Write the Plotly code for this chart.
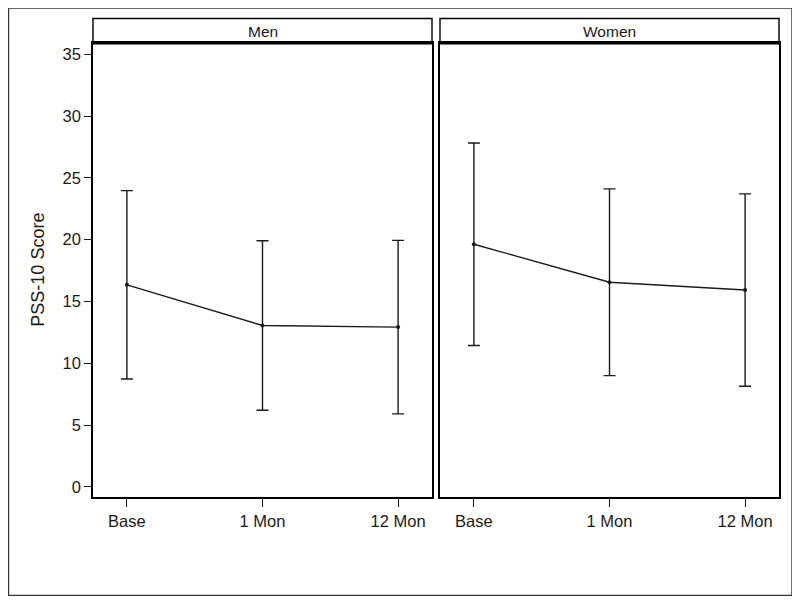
import plotly.graph_objects as go

categories = ["Base", "1 Mon", "12 Mon"]
panels = ["Men", "Women"]
men_mean = [16.35, 13.06, 12.93]
men_sd = [7.62, 6.85, 7.02]
women_mean = [19.63, 16.56, 15.93]
women_sd = [8.19, 7.55, 7.78]
y_ticks = [0, 5, 10, 15, 20, 25, 30, 35]
y_title = "PSS-10 Score"

OFF = 8  # default page body margin
W, H = 792, 596
# window-pixel geometry of the plot block
PL, PR, PT, PB = 93, 779, 43, 496.7
L = PL - OFF
R = W - (PR - OFF)
T = PT - OFF
B = H - (PB - OFF)
pw = W - L - R
ph = H - T - B

def px_x(p):
    return (p - OFF - L) / pw

def px_y(p):
    return (H - B - (p - OFF)) / ph

men_dom = [0, px_x(432)]
women_dom = [px_x(440), 1]

FONT = "Arial, Liberation Sans, sans-serif"
ink = "#1a1a1a"

fig = go.Figure()
for i, (mean, sd) in enumerate([(men_mean, men_sd), (women_mean, women_sd)]):
    xa = "x" if i == 0 else "x2"
    ya = "y" if i == 0 else "y2"
    fig.add_trace(go.Scatter(
        x=categories, y=mean, xaxis=xa, yaxis=ya, mode="lines+markers",
        line=dict(color=ink, width=1.4),
        marker=dict(color=ink, size=4),
        error_y=dict(type="data", array=sd, symmetric=True, color=ink, thickness=1.4, width=6),
        showlegend=False, hoverinfo="x+y",
    ))

axis_common = dict(showline=True, mirror=True, linecolor="black", linewidth=1.6,
                   showgrid=False, zeroline=False)
xcommon = dict(axis_common, type="category", range=[-0.25, 2.25], ticks="outside",
               ticklen=8, tickwidth=1.2, tickcolor=ink,
               tickfont=dict(family=FONT, size=16.5, color=ink))
ycommon = dict(axis_common, range=[-0.81, 35.91], tickvals=y_ticks, ticks="outside",
               ticklen=7, tickwidth=1.2, tickcolor=ink,
               tickfont=dict(family=FONT, size=16.5, color=ink))

fig.update_layout(
    width=W, height=H,
    margin=dict(l=L, r=R, t=T, b=B, pad=0),
    paper_bgcolor="white", plot_bgcolor="white",
    xaxis=dict(xcommon, domain=men_dom, anchor="y"),
    xaxis2=dict(xcommon, domain=women_dom, anchor="y2"),
    yaxis=dict(ycommon, domain=[0, 1], anchor="x"),
    yaxis2=dict(ycommon, domain=[0, 1], anchor="x2", matches="y", showticklabels=False, ticks=""),
    font=dict(family=FONT, color=ink),
)

shapes = []
annotations = []
hdr_top = px_y(18.5)
for name, dom in zip(panels, [men_dom, women_dom]):
    shapes.append(dict(type="rect", xref="paper", yref="paper", x0=dom[0], x1=dom[1],
                       y0=1, y1=hdr_top, line=dict(color="black", width=1.4)))
    shapes.append(dict(type="line", xref="paper", yref="paper", x0=dom[0], x1=dom[1],
                       y0=1, y1=1, line=dict(color="black", width=3)))
    annotations.append(dict(text=name, xref="paper", yref="paper", x=(dom[0] + dom[1]) / 2,
                            y=px_y(32), showarrow=False, xanchor="center", yanchor="middle",
                            font=dict(family=FONT, size=15.5, color=ink)))

# outer frame
shapes.append(dict(type="rect", xref="paper", yref="paper", x0=px_x(8.5), x1=px_x(792),
                   y0=px_y(595), y1=px_y(8), line=dict(color="#333", width=1.4)))

annotations.append(dict(text=y_title, xref="paper", yref="paper", x=px_x(38.5), y=px_y(270),
                        textangle=-90, showarrow=False, xanchor="center", yanchor="middle",
                        font=dict(family=FONT, size=18, color=ink)))

fig.update_layout(shapes=shapes, annotations=annotations)
fig.write_html("out.html")
